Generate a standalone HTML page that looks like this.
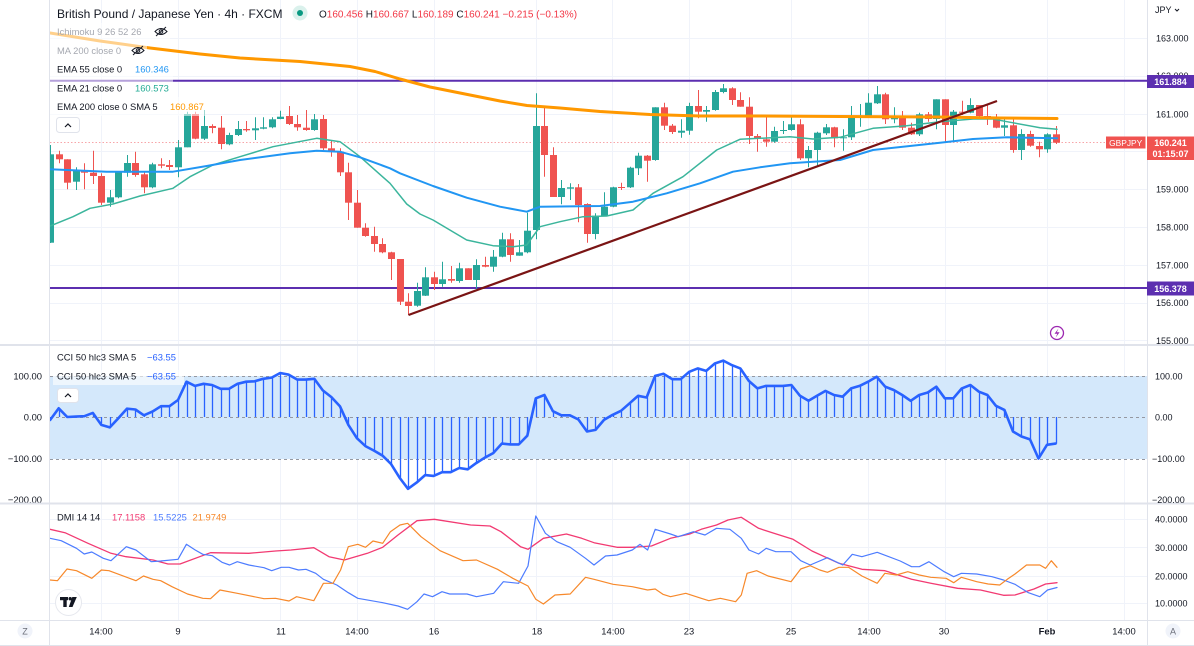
<!DOCTYPE html>
<html><head><meta charset="utf-8"><style>
html,body{margin:0;padding:0;background:#fff;}
svg{display:block;font-family:"Liberation Sans",sans-serif;}
</style></head><body>
<svg id="c" width="1194" height="646" viewBox="0 0 1194 646" xmlns="http://www.w3.org/2000/svg">
<defs>
<clipPath id="cm"><rect x="50" y="0" width="1097" height="345"/></clipPath>
<clipPath id="cc"><rect x="50" y="346" width="1097" height="157"/></clipPath>
<clipPath id="cd"><rect x="50" y="504" width="1097" height="116"/></clipPath>
</defs>
<rect width="1194" height="646" fill="#fff"/>
<g stroke="#f0f3fa" stroke-width="1">
<line x1="101.5" y1="0" x2="101.5" y2="620"/><line x1="178.5" y1="0" x2="178.5" y2="620"/><line x1="280.5" y1="0" x2="280.5" y2="620"/><line x1="357.5" y1="0" x2="357.5" y2="620"/><line x1="434.5" y1="0" x2="434.5" y2="620"/><line x1="536.5" y1="0" x2="536.5" y2="620"/><line x1="612.5" y1="0" x2="612.5" y2="620"/><line x1="689.5" y1="0" x2="689.5" y2="620"/><line x1="791.5" y1="0" x2="791.5" y2="620"/><line x1="868.5" y1="0" x2="868.5" y2="620"/><line x1="945.5" y1="0" x2="945.5" y2="620"/><line x1="1047.5" y1="0" x2="1047.5" y2="620"/><line x1="1124.5" y1="0" x2="1124.5" y2="620"/>
<line x1="50" y1="38.5" x2="1147" y2="38.5"/><line x1="50" y1="76.5" x2="1147" y2="76.5"/><line x1="50" y1="114.5" x2="1147" y2="114.5"/><line x1="50" y1="151.5" x2="1147" y2="151.5"/><line x1="50" y1="189.5" x2="1147" y2="189.5"/><line x1="50" y1="227.5" x2="1147" y2="227.5"/><line x1="50" y1="265.5" x2="1147" y2="265.5"/><line x1="50" y1="303.5" x2="1147" y2="303.5"/><line x1="50" y1="340.5" x2="1147" y2="340.5"/>
<line x1="50" y1="519.5" x2="1147" y2="519.5"/><line x1="50" y1="547.5" x2="1147" y2="547.5"/><line x1="50" y1="576.5" x2="1147" y2="576.5"/><line x1="50" y1="603.5" x2="1147" y2="603.5"/>
</g>
<!-- main panel -->
<g clip-path="url(#cm)">
<line x1="50" y1="80.8" x2="1147" y2="80.8" stroke="#5c2fb0" stroke-width="2"/>
<line x1="50" y1="288" x2="1147" y2="288" stroke="#5c2fb0" stroke-width="2"/>
<line x1="50" y1="142.5" x2="1106" y2="142.5" stroke="#f7a5a8" stroke-width="1" stroke-dasharray="1.5 2"/>
<g id="gm"></g>
<g id="ge"></g>
</g>
<!-- main legend backgrounds -->
<g fill="#fff" fill-opacity="0.55">
<rect x="50" y="23" width="120" height="18"/>
<rect x="50" y="41" width="97" height="19"/>
<rect x="50" y="60" width="123" height="19"/>
<rect x="50" y="79" width="123" height="18"/>
<rect x="50" y="97" width="155" height="19"/>
</g>
<text x="57" y="18" font-size="12" fill="#131722">British Pound / Japanese Yen · 4h · FXCM</text>
<circle cx="300" cy="13" r="7.5" fill="#daf1ec"/><circle cx="300" cy="13" r="3" fill="#089981"/>
<text x="319" y="17.5" font-size="10" fill="#131722">O<tspan fill="#f23645">160.456</tspan> H<tspan fill="#f23645">160.667</tspan> L<tspan fill="#f23645">160.189</tspan> C<tspan fill="#f23645">160.241</tspan> <tspan fill="#f23645">−0.215 (−0.13%)</tspan></text>
<g font-size="9.4">
<text x="57" y="35" fill="#a5a8b0">Ichimoku 9 26 52 26</text>
<text x="57" y="54" fill="#a5a8b0">MA 200 close 0</text>
<text x="57" y="72.7" fill="#131722">EMA 55 close 0</text><text x="135" y="72.7" fill="#2196f3">160.346</text>
<text x="57" y="91.4" fill="#131722">EMA 21 close 0</text><text x="135" y="91.4" fill="#22ab94">160.573</text>
<text x="57" y="110" fill="#131722">EMA 200 close 0 SMA 5</text><text x="170" y="110" fill="#ff9800">160.867</text>
</g>
<g fill="none" stroke="#131722" stroke-width="1">
<path d="M155 31.5 Q161 25.5 167 31.5 Q161 37.5 155 31.5 Z"/><circle cx="161" cy="31.5" r="1.8"/><line x1="156" y1="36" x2="166" y2="27"/>
<path d="M132 50.5 Q138 44.5 144 50.5 Q138 56.5 132 50.5 Z"/><circle cx="138" cy="50.5" r="1.8"/><line x1="133" y1="55" x2="143" y2="46"/>
</g>
<rect x="56.5" y="117.5" width="23" height="15" rx="3" fill="#fff" stroke="#e0e3eb"/>
<path d="M65 127 L68 124 L71 127" fill="none" stroke="#131722" stroke-width="1.2"/>
<circle cx="1057" cy="333" r="6.5" fill="#fff" stroke="#9c27b0" stroke-width="1.3"/>
<path d="M1058.5 328.5 L1054.5 333.8 L1057.3 333.8 L1055.6 337.6 L1059.6 332.2 L1056.8 332.2 Z" fill="#9c27b0"/>
<!-- CCI panel -->
<g clip-path="url(#cc)">
<rect x="50" y="376" width="1097" height="83" fill="#d4e8fb"/>
<g stroke="#9598a1" stroke-width="1" stroke-dasharray="3 3">
<line x1="50" y1="376.5" x2="1147" y2="376.5"/><line x1="50" y1="417.5" x2="1147" y2="417.5"/><line x1="50" y1="459.5" x2="1147" y2="459.5"/>
</g>
<g id="gc"></g>
</g>
<rect x="53" y="370" width="131" height="15" fill="#fff" fill-opacity="0.6"/>
<g font-size="9.4">
<text x="57" y="360.5" fill="#131722">CCI 50 hlc3 SMA 5</text><text x="147" y="360.5" fill="#2962ff">−63.55</text>
<text x="57" y="379.5" fill="#131722">CCI 50 hlc3 SMA 5</text><text x="147" y="379.5" fill="#2962ff">−63.55</text>
</g>
<rect x="57.5" y="388.5" width="21" height="14" rx="3" fill="#fff" stroke="#e0e3eb"/>
<path d="M65 397 L68 394 L71 397" fill="none" stroke="#131722" stroke-width="1.2"/>
<g font-size="9.4" fill="#131722" text-anchor="end">
<text x="42" y="379.5">100.00</text><text x="42" y="420.5">0.00</text><text x="42" y="462">−100.00</text><text x="42" y="503">−200.00</text>
</g>
<!-- DMI panel -->
<g clip-path="url(#cd)"><g id="gd"></g></g>
<g font-size="9.4">
<text x="57" y="520.5" fill="#131722">DMI 14 14</text>
<text x="112" y="520.5" fill="#f23a72">17.1158</text>
<text x="153" y="520.5" fill="#4d7cff">15.5225</text>
<text x="192.5" y="520.5" fill="#f7892b">21.9749</text>
</g>
<circle cx="68.5" cy="602.5" r="13" fill="#fff" stroke="#e6e8ee" stroke-width="1"/>
<rect x="60" y="597" width="8" height="3.2" fill="#131722"/>
<rect x="63.3" y="597" width="3.4" height="10" fill="#131722"/>
<circle cx="70.2" cy="598.7" r="1.7" fill="#131722"/>
<polygon points="72.3,597 76.8,597 72.5,607 68.8,607" fill="#131722"/>
<!-- separators and borders -->
<g stroke="#e0e3eb">
<line x1="0" y1="345" x2="1194" y2="345" stroke-width="2"/>
<line x1="0" y1="503.5" x2="1194" y2="503.5" stroke-width="2"/>
<line x1="0" y1="620.5" x2="1194" y2="620.5" stroke-width="1"/>
<line x1="0" y1="645.5" x2="1194" y2="645.5" stroke-width="1"/>
<line x1="49.5" y1="0" x2="49.5" y2="646" stroke-width="1"/>
<line x1="1147.5" y1="0" x2="1147.5" y2="646" stroke-width="1"/>
</g>
<!-- right axis -->
<g font-size="9" fill="#131722">
<text x="1155" y="13">JPY</text>
<text x="1156" y="41.5">163.000</text>
<text x="1156" y="79">162.000</text>
<text x="1156" y="117.5">161.000</text>
<text x="1156" y="154.5">160.000</text>
<text x="1156" y="192.5">159.000</text>
<text x="1156" y="230.5">158.000</text>
<text x="1156" y="268.5">157.000</text>
<text x="1156" y="306">156.000</text>
<text x="1156" y="344">155.000</text>
<text x="1155" y="379.5">100.00</text>
<text x="1155" y="420.5">0.00</text>
<text x="1152" y="462">−100.00</text>
<text x="1152" y="503">−200.00</text>
<text x="1155" y="522.5">40.0000</text>
<text x="1155" y="551">30.0000</text>
<text x="1155" y="579.5">20.0000</text>
<text x="1155" y="606.5">10.0000</text>
</g>
<path d="M1175 9 L1177 11 L1179 9" fill="none" stroke="#131722" stroke-width="1"/>
<rect x="1147" y="75" width="47" height="13" fill="#5c2fb0"/>
<text x="1170.5" y="84.8" font-size="9" font-weight="bold" fill="#fff" text-anchor="middle">161.884</text>
<rect x="1147" y="281.5" width="47" height="14" fill="#5c2fb0"/>
<text x="1170.5" y="291.8" font-size="9" font-weight="bold" fill="#fff" text-anchor="middle">156.378</text>
<rect x="1106" y="136.5" width="39.5" height="12" fill="#f05350"/>
<text x="1125.7" y="145.8" font-size="8.4" fill="#fff" text-anchor="middle">GBPJPY</text>
<rect x="1147" y="136.5" width="47" height="23.5" fill="#f05350"/>
<text x="1170.5" y="146.2" font-size="9" font-weight="bold" fill="#fff" text-anchor="middle">160.241</text>
<text x="1170.5" y="157.2" font-size="9" font-weight="bold" fill="#fff" text-anchor="middle">01:15:07</text>
<!-- time axis -->
<g font-size="9.4" fill="#131722" text-anchor="middle">
<text x="101" y="634.5">14:00</text>
<text x="178" y="634.5">9</text>
<text x="281" y="634.5">11</text>
<text x="357" y="634.5">14:00</text>
<text x="434" y="634.5">16</text>
<text x="537" y="634.5">18</text>
<text x="613" y="634.5">14:00</text>
<text x="689" y="634.5">23</text>
<text x="791" y="634.5">25</text>
<text x="869" y="634.5">14:00</text>
<text x="944" y="634.5">30</text>
<text x="1047" y="634.5" font-weight="bold">Feb</text>
<text x="1124" y="634.5">14:00</text>
</g>
<circle cx="25" cy="631" r="7.5" fill="#f0f3fa"/>
<text x="25" y="634.3" font-size="9" fill="#6a6d78" text-anchor="middle">Z</text>
<circle cx="1173" cy="631" r="7.5" fill="#f0f3fa"/>
<text x="1173" y="634.3" font-size="9" fill="#6a6d78" text-anchor="middle">A</text>
</svg>
<script>
(function(){
var NS='http://www.w3.org/2000/svg';
function mk(t,a,p){var e=document.createElementNS(NS,t);for(var k in a)e.setAttribute(k,a[k]);p.appendChild(e);return e;}
function X(i){return 50.2+8.52*i;}
var C=[
[1,154.3,242.7,145,243],[0,154.3,159.3,150.7,163.3],[0,159.3,182.7,159.3,189.3],[1,170.7,181.7,167.3,190],[0,171,172.7,163.3,189.3],[0,172.7,176,150.7,184],[0,176,202.7,173.3,205],[1,197.3,202.7,190,206.7],[1,171,197.3,171,198.3],[1,163,172.7,155,176.7],
[0,163,175,151.7,176.7],[0,174.3,187.3,171.7,193.3],[1,164.3,187.3,162.7,188.3],[0,164.3,165.7,158.3,168.3],[0,165,167,160,170],[1,147.3,167.3,140,177.3],[1,114,147.3,111.7,147.3],[0,114,138.7,111.7,139.3],[1,126,138.7,110,140],[0,126,128,124.3,133.3],
[0,127.7,144,116,149.3],[1,135,144.3,132.7,145.3],[1,129,135,121,136],[0,129,130.3,121,131.7],[1,128.3,130.3,117.3,140],[1,127.3,128.7,117.3,129.3],[1,119.3,127.3,117.3,128.3],[1,116.7,119,110.7,119.3],[0,116,124,106,125],[0,124,127.3,115,130.7],
[0,127.7,130,110,130.7],[1,119.3,130,114,130.7],[0,119,148.3,115,150],[0,148.3,151.7,140,156.7],[0,151.7,172.3,148.3,176],[0,172.3,202.7,162.7,220],[0,202.7,227.7,190,227.7],[0,227.7,236,223.3,236.7],[0,236,244,226.7,251.7],[0,244,252.3,238.3,253.3],
[0,252.3,259,251.7,280],[0,259,301.7,259,305],[0,301.7,306,293.3,315],[1,291,305.7,282.7,306.7],[1,277.3,295.7,267.3,296],[0,277.3,284,271.7,290],[1,279.3,284,261.7,286.7],[0,279,280.7,266,282.7],[1,268.3,281,262.7,282.7],[0,268.3,280,268.3,280],
[1,265,280,259.3,288.7],[0,265,266.7,256.7,267.3],[1,256.7,266.7,250,271.7],[1,239.3,256.7,232.7,257.3],[0,239.3,255,233.3,261.7],[1,252.3,255.7,240,255.7],[1,230.7,252.3,212.7,253.3],[1,126,230,93.3,239.3],[0,126,155,106,176.7],[0,155,197,147.3,197],
[1,188,197,180,204.3],[1,187.3,188.7,183.3,200],[0,187.3,205,184,222.3],[0,204,234,203.3,242.7],[1,215.7,234,213.3,239.3],[1,206.7,215.7,192.3,216],[1,187.3,206.7,186.7,207.3],[0,187,188,182.7,190],[1,167.7,187.3,166.7,188],[1,155.7,168.3,152.7,175],
[0,155.7,160.7,155,181.7],[1,107.3,160,107.3,160.7],[0,107.3,125.7,102.7,130],[0,125.7,132,124,134],[1,130.7,132.7,119.3,137.7],[1,106,130.7,102.7,134.7],[0,106,111.7,90,118.3],[1,110,111.7,106,121.7],[1,92,110,90,110.7],[1,88.3,92,84,93.3],
[0,88.3,100,87.3,105],[0,100,106.7,92.3,106.7],[0,106.7,136,97.3,144],[0,136,139,134,151.7],[0,139.3,141.7,117.3,146.7],[1,131,141.7,126.7,142.7],[1,130,131,121,134],[1,124.3,130,116,130.7],[0,124.3,158.3,119.3,160],[1,150,158.3,146,167.3],
[1,132.7,150,131.7,166],[1,127.3,133.3,124,135],[0,127.3,138.3,126.7,147.3],[1,137.3,138.3,129.3,150.7],[1,116,137.3,106,140],[1,116,117.3,104,126.7],[1,102.7,116.7,93.3,117.3],[1,94.3,103.3,86,104],[0,94.3,119.3,92.7,124],[1,116.7,119.3,107.3,123.3],
[0,116.7,127.7,111,130],[0,127.7,134.3,122.7,135],[1,114.3,134.3,112.7,136],[0,114.3,119,112,121.7],[1,99.3,119,99.3,129.3],[0,99.3,125,99.3,141.7],[1,111.7,125,110,141.7],[0,111.7,112.7,100.7,115],[1,105,112.7,98.3,113.3],[0,105,116,105,118.3],
[0,116,117.3,105,125],[0,117.3,127.7,114,128.3],[1,125.3,127.7,117.3,136],[0,125.3,150,119.3,152.7],[1,134,150,129.3,160],[0,134,145.7,130.7,146.7],[0,146,149.3,141.7,157.3],[1,134.3,149.3,133.3,152.7],[0,134.3,142.7,126,144]
];
var gm=document.getElementById('gm');
C.forEach(function(c,i){
  var r=Math.round(X(i)); var col=c[0]?'#26a69a':'#ef5350';
  mk('line',{x1:r+0.5,x2:r+0.5,y1:c[3],y2:c[4],stroke:col,'stroke-width':1},gm);
  mk('rect',{x:r-3,y:c[1],width:7,height:Math.max(c[2]-c[1],1),fill:col},gm);
});
var ge=document.getElementById('ge');
function pl(pts,col,w,p){mk('polyline',{points:pts.map(function(q){return q[0]+','+q[1];}).join(' '),fill:'none',stroke:col,'stroke-width':w,'stroke-linejoin':'round','stroke-linecap':'round'},p);}
pl([[50,226],[73,216.7],[90,208.3],[113,204],[140,196],[173,188.3],[190,176.7],[213,165],[240,156.7],[273,146.7],[316.7,138.3],[340,141.7],[360,156.7],[390,183.3],[406.7,204],[420,214],[433,220],[466.7,240],[493,245.7],[513,246.7],[526.7,245],[540,226.7],[560,221.7],[583,216.7],[606.7,216],[633,210],[653,193.3],[683,176.7],[716.7,150],[740,139.3],[760,138.3],[790,136.7],[813,139],[840,137.3],[873,128.3],[906.7,125.7],[940,121.7],[973,119],[993,119],[1007,121.7],[1040,127.7],[1057,129.3]],'#3bb59c',1.5,ge);
pl([[50,169.3],[106.7,171.7],[173,171.7],[206.7,166],[240,160],[290,153.3],[316.7,150.7],[340,151.7],[360,157.3],[390,168.3],[400,173.3],[433,186],[466.7,197.7],[500,206.7],[526.7,211.7],[540,206.7],[600,206],[633,201.7],[666.7,193.3],[700,183.3],[733,171.7],[760,167.3],[790,163.3],[840,160],[873,150],[940,142.7],[973,139],[1007,137.3],[1057,138.3]],'#2196f3',2,ge);
pl([[50,33],[100,41],[150,48],[200,54],[240,58],[300,61.5],[350,66.5],[375,71.5],[400,79],[430,87],[470,95],[500,101],[527,105.5],[560,108],[600,111.5],[650,114.5],[700,116],[760,116],[840,116.5],[940,117],[1000,118],[1057,118.5]],'#ff9800',3,ge);
mk('line',{x1:408.5,y1:315,x2:997,y2:101,stroke:'#7a1414','stroke-width':2.2},ge);
var V=[-7,21,0,1,2,10,-19,-25,-3,20,18,4,13,26,26,41,85,75,80,77,68,68,80,85,86,92,95,106,102,90,90,92,64,48,26,-19,-51,-70,-81,-93,-113,-146,-173,-158,-140,-142,-133,-133,-123,-126,-111,-98,-87,-64,-66,-66,-45,45,53,14,4,4,-6,-35,-31,
-7,5,15,33,51,47,99,104,91,91,109,117,111,129,136,125,117,87,69,75,75,75,77,51,39,51,63,53,49,69,75,85,97,73,65,53,39,53,59,73,45,45,69,77,61,53,27,17,-35,-47,-54,-100,-67,-64];
var gc=document.getElementById('gc');
V.forEach(function(v,i){var r=Math.round(X(i))+0.5;mk('line',{x1:r,x2:r,y1:417,y2:(417-v*0.415).toFixed(1),stroke:'#2962ff','stroke-width':1.3},gc);});
pl(V.map(function(v,i){return [X(i).toFixed(1),(417-v*0.415).toFixed(1)];}),'#2962ff',2.6,gc);
var gd=document.getElementById('gd');
pl([[50,529.3],[65,532.7],[88,543.3],[111,553.3],[126,556.7],[153,560],[168,564],[180,564],[210.5,552.7],[248.8,553.3],[275.5,551],[291,550],[313.8,547.7],[329,556.7],[344.4,560],[367.4,553.3],[382.7,547.3],[398,535],[417,520.7],[434.4,519.3],[470.7,525],[490,526],[501,531.7],[520.5,546.7],[528,549.3],[543.4,538.3],[566.4,534],[581.7,538.3],[594,542.7],[617,547.3],[632.3,547.3],[651.4,546],[670.5,538.3],[689.7,534],[701.2,529.3],[716.5,525],[728,520],[741.3,517.3],[758.6,528.3],[773.9,533.3],[793,539.3],[812,551],[839,563.3],[862,569.3],[884.9,570.7],[911.6,579.3],[930.8,583.3],[957.6,588.3],[980.5,590],[1003.5,595.3],[1015,595],[1034,589],[1045.6,584],[1057,582.7]],'#f23a72',1.3,gd);
pl([[50,538.3],[61.2,540.7],[76.5,548.3],[84.2,554],[91.8,552],[103.3,558.3],[111,560.7],[126.3,546.7],[135.9,550],[151.2,561.7],[160.7,561],[178,559.3],[186.4,544.3],[195.2,550],[202.8,554.3],[212.4,555.7],[222,562.3],[229.6,565],[237.3,561.7],[248.8,565],[264,567.7],[271.7,570.7],[281.3,567.3],[289,567.3],[298.5,570],[306,569.3],[315.7,573.3],[323.4,579.3],[336.8,585],[348.3,592.7],[357.8,598.3],[382.7,602.7],[398,606],[407.6,609.3],[417,601.7],[424,594],[432.5,596.7],[442,591.7],[449.7,594],[467,594],[476.5,596.7],[493.7,593.3],[503.3,581.7],[518.6,583.3],[528,566],[535.8,516],[545.4,533.3],[556.8,541.7],[570.2,547.3],[585.5,558.3],[594,565],[605.5,556],[617,555],[632.3,550],[640,544.3],[647.6,550],[655.2,529.3],[670.5,534],[678.2,536.7],[693.5,531.7],[705,535],[716.5,528.3],[729.9,529.3],[741.3,538.3],[749,550],[758.6,554],[766.2,548.3],[775.8,551.7],[791,551.7],[800.7,560.7],[810.2,565],[827.4,557.7],[842.8,565],[852.3,554.3],[861.9,556.7],[877.2,552.3],[900.2,561],[911.6,566.7],[919.3,566.7],[929,561.7],[944.2,571.7],[953.7,576.7],[961.4,573.3],[976.7,574],[992,576.7],[1003.5,580],[1015,584.3],[1028.4,592.7],[1039.8,596.7],[1047.5,590],[1057,587.5]],'#4d7cff',1.2,gd);
pl([[50,580],[57.4,580.7],[67,569],[76.5,570.7],[91.8,578.3],[101.4,570],[109,570.7],[135.9,580.7],[143.5,576],[153,579.3],[160.7,580.7],[172,586.7],[187.5,594],[202.8,598.3],[210.5,598.7],[220,590],[237.3,593.3],[264,598.7],[275.5,598.3],[289,601],[296.6,596.7],[313.8,600.7],[323.4,583.3],[333,583.3],[340.6,570],[348.3,546.7],[357.8,544.3],[365.5,547.3],[373,541],[382.7,543.3],[390.4,531.7],[400,525],[407.6,523.3],[421,536.7],[440,550.7],[463,560.7],[476.5,560],[497.5,569.3],[512.8,578.3],[528,586],[535.8,599.3],[543.4,604],[555,595],[570.2,594],[585.5,577.3],[594,579.3],[613.1,584.3],[632.3,586.7],[647.6,590],[655.2,589],[662.9,594.3],[670.5,596.7],[685.8,593.3],[701.2,598.3],[708.8,600.7],[720.3,598.3],[735.6,601.7],[741.3,595],[747.1,573.3],[756.6,570.7],[768.1,576],[791,581.7],[800.7,569],[810.2,565.7],[819.8,570],[827.4,572.3],[839,567.3],[848.5,567.3],[861.9,576],[877.2,583.3],[884.9,573.3],[896.3,575],[907.8,571.7],[919.3,575],[930.8,577.3],[946.1,578.3],[953.7,582.7],[961.4,577.3],[976.7,581.7],[988.2,584],[999.7,585],[1007.3,579.3],[1015,574],[1026.5,565],[1039.8,565],[1045.6,568.3],[1051.3,560.7],[1057,567.3]],'#f7892b',1.2,gd);
})();
</script>
</body></html>
